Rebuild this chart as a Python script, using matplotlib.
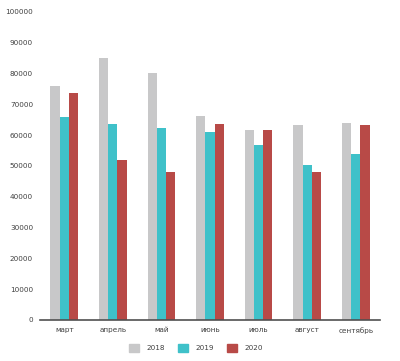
import numpy as np
import matplotlib
matplotlib.use("Agg")
import matplotlib.pyplot as plt
from matplotlib.patches import Patch

months = ["март", "апрель", "май", "июнь", "июль", "август", "сентябрь"]
years = ["2018", "2019", "2020"]
v2018 = [76000, 85000, 80000, 66200, 61800, 63400, 63900]
v2019 = [65800, 63700, 62300, 61000, 56800, 50200, 53900]
v2020 = [73700, 51800, 48100, 63600, 61800, 48000, 63200]
colors = ["#c8c8c9", "#3fc1c9", "#b84a47"]

plt.rcParams["font.family"] = ["Liberation Sans Narrow", "DejaVu Sans"]

fig = plt.figure(figsize=(4.0, 3.61), dpi=100)
ax = fig.add_axes([0.1, 0.114, 0.85, 0.853])

x = np.arange(len(months))
w = 0.19
for i, vals in enumerate([v2018, v2019, v2020]):
    ax.bar(x + (i - 1) * w, vals, width=w, color=colors[i], label=years[i])

ax.set_xlim(-0.5, len(months) - 0.5)
ax.set_ylim(0, 100000)
ax.set_yticks(np.arange(0, 100001, 10000))
ax.set_xticks(x)
ax.set_xticklabels(months)
ax.tick_params(axis="both", length=0, labelsize=5.2, colors="#404040")
ax.tick_params(axis="y", pad=5)
ax.tick_params(axis="x", pad=5)
for s in ["top", "right", "left"]:
    ax.spines[s].set_visible(False)
ax.spines["bottom"].set_color("#505050")
ax.spines["bottom"].set_linewidth(1.2)

handles = [Patch(color=c) for c in colors]
fig.legend(handles, years, loc="center", bbox_to_anchor=(0.49, 0.036), ncol=3,
           frameon=False, fontsize=5.2, handlelength=1.4, handleheight=1.4,
           columnspacing=1.8, handletextpad=1.0, labelcolor="#404040")

fig.savefig("out.png", dpi=100)
